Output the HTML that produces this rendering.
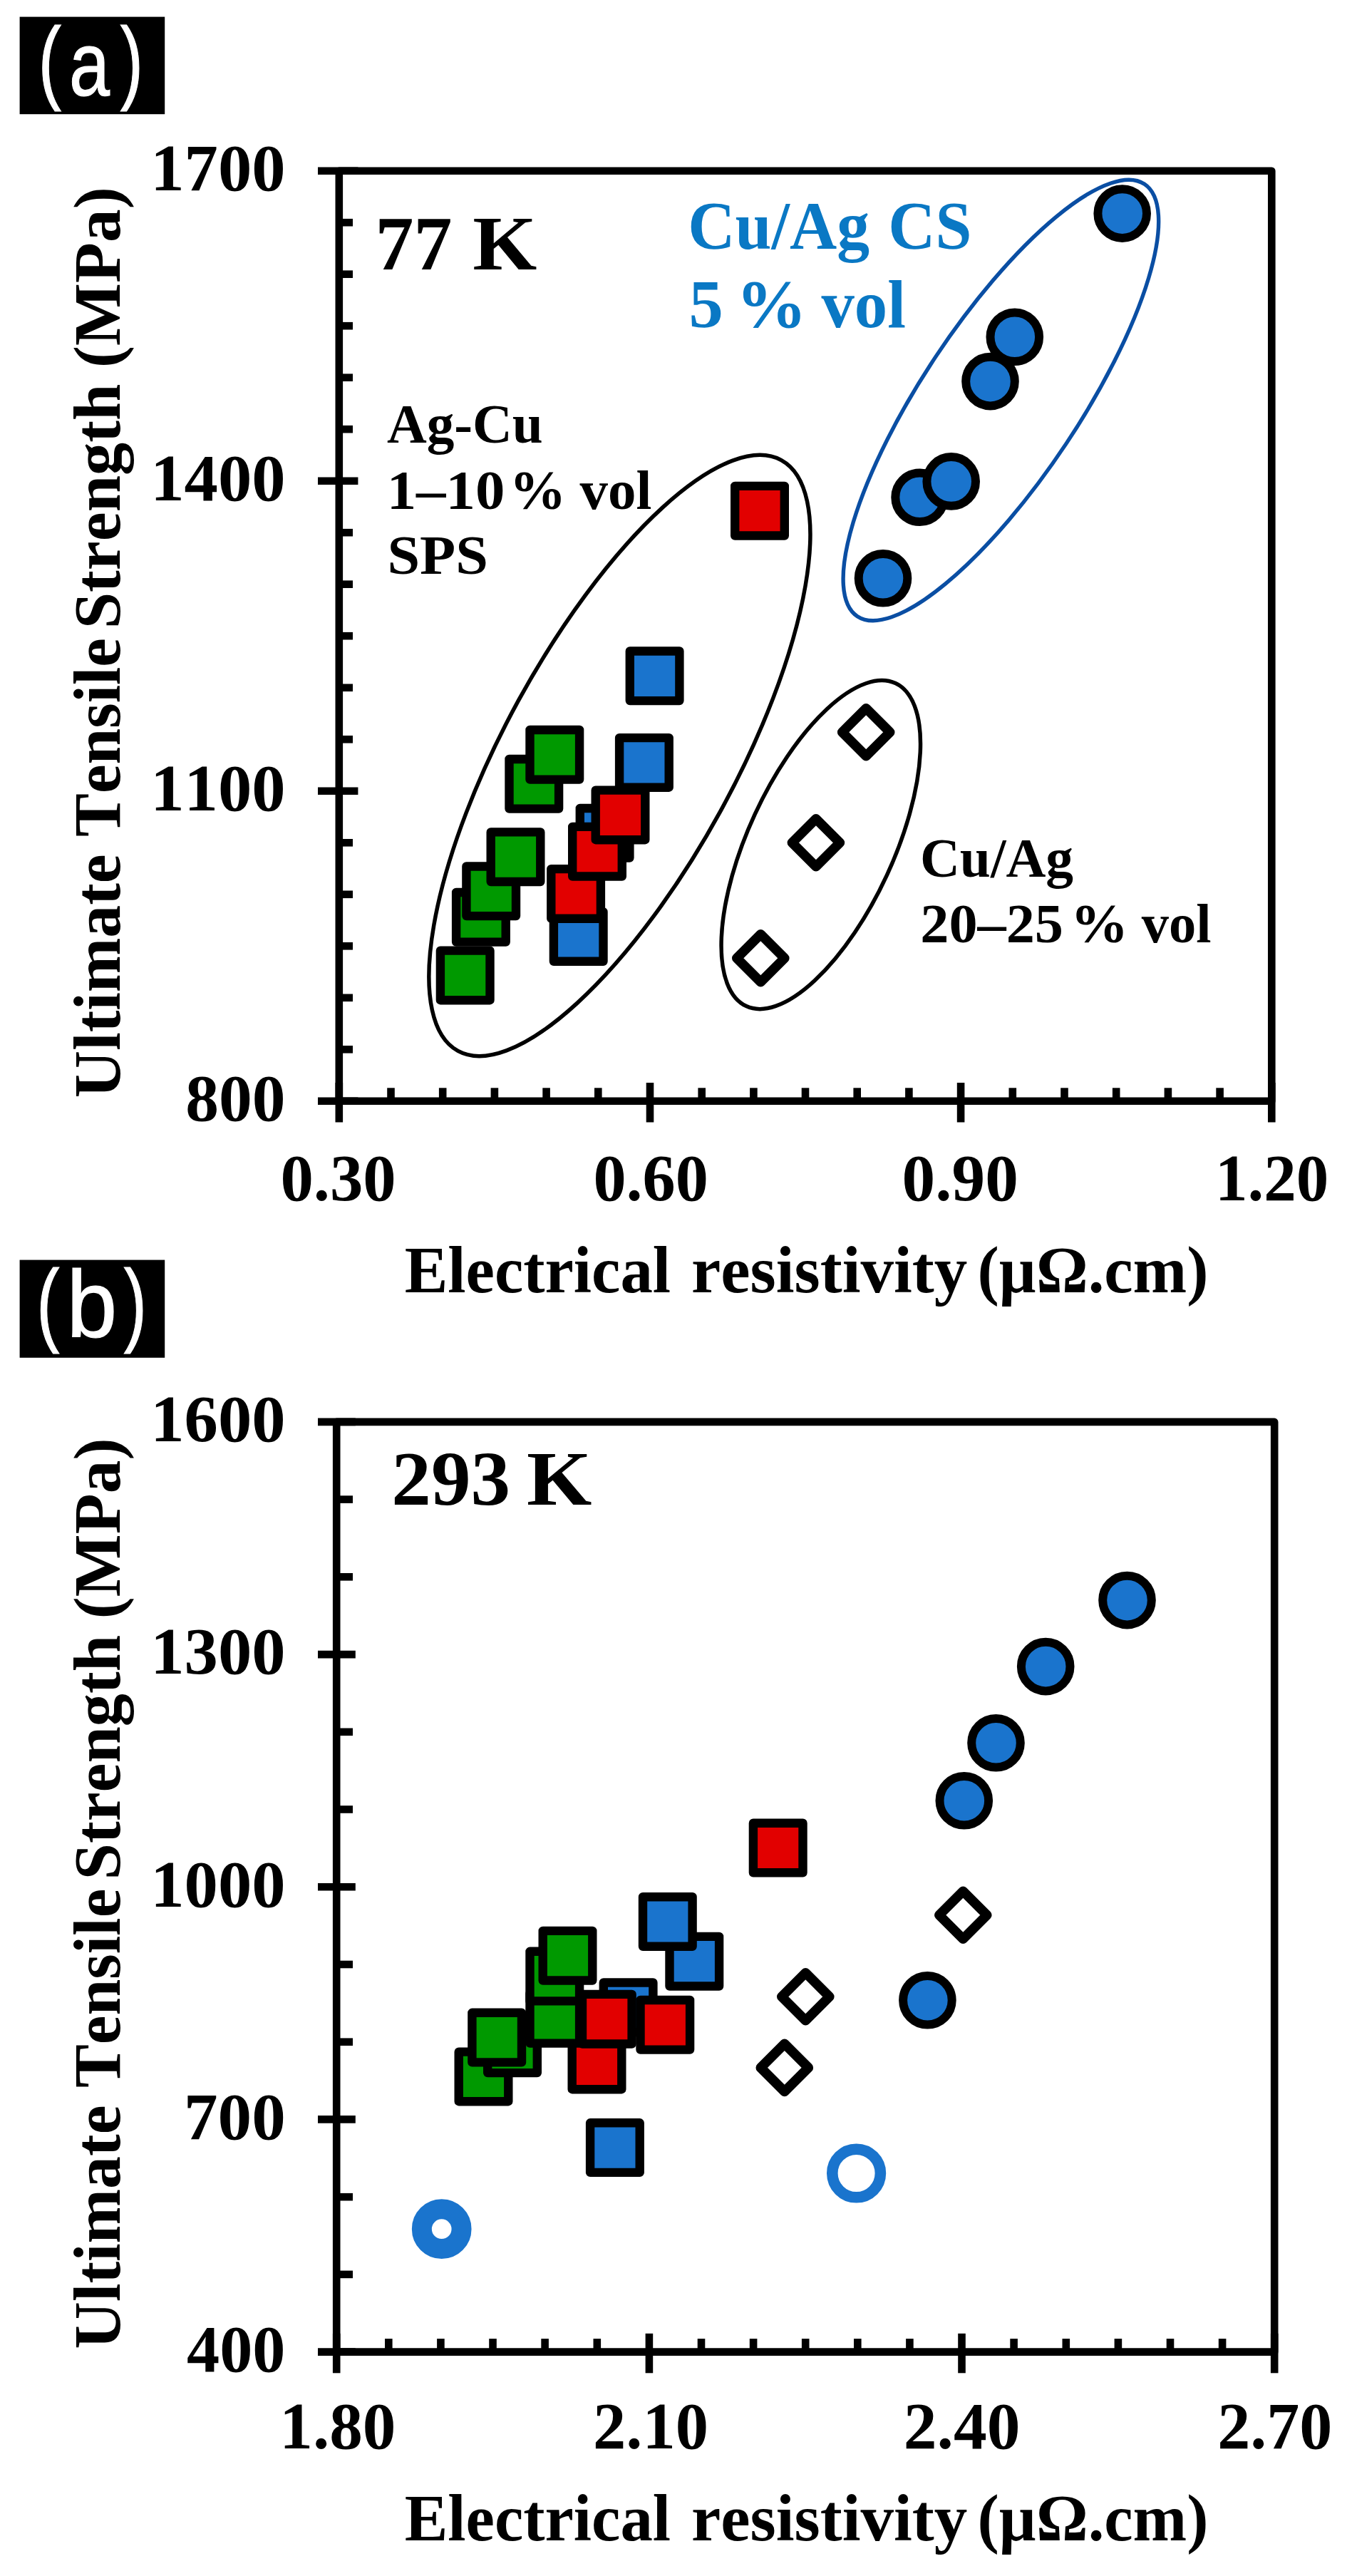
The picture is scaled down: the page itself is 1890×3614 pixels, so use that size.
<!DOCTYPE html>
<html lang="en"><head><meta charset="utf-8"><title>Ultimate Tensile Strength vs Electrical resistivity</title>
<style>html,body{margin:0;padding:0;background:#fff}svg{display:block}text{font-kerning:none;white-space:pre}</style></head>
<body><svg width="1890" height="3614" viewBox="0 0 1890 3614">
<rect width="1890" height="3614" fill="#fff"/>
<rect x="27.6" y="23.6" width="203.6" height="136.6" fill="#000"/>
<text font-family="'Liberation Sans','Noto Sans CJK SC',sans-serif" fill="#fff" stroke="#fff" stroke-width="1.2"><tspan x="53.7" y="129.0" font-size="129" textLength="32.2" lengthAdjust="spacingAndGlyphs">(</tspan><tspan x="96.9" y="133.7" font-size="128" textLength="57.0" lengthAdjust="spacingAndGlyphs">a</tspan><tspan x="168.8" y="129.0" font-size="129" textLength="32.2" lengthAdjust="spacingAndGlyphs">)</tspan></text>
<rect x="475.8" y="239.7" width="1308.5" height="1305.1" fill="none" stroke="#000" stroke-width="10.6" stroke-linejoin="round"/>
<line x1="446" y1="239.7" x2="502.4" y2="239.7" stroke="#000" stroke-width="10.6"/>
<line x1="475.8" y1="312.2" x2="495" y2="312.2" stroke="#000" stroke-width="10.6"/>
<line x1="475.8" y1="384.7" x2="495" y2="384.7" stroke="#000" stroke-width="10.6"/>
<line x1="475.8" y1="457.2" x2="495" y2="457.2" stroke="#000" stroke-width="10.6"/>
<line x1="475.8" y1="529.7" x2="495" y2="529.7" stroke="#000" stroke-width="10.6"/>
<line x1="475.8" y1="602.2" x2="495" y2="602.2" stroke="#000" stroke-width="10.6"/>
<line x1="446" y1="674.7" x2="502.4" y2="674.7" stroke="#000" stroke-width="10.6"/>
<line x1="475.8" y1="747.2" x2="495" y2="747.2" stroke="#000" stroke-width="10.6"/>
<line x1="475.8" y1="819.7" x2="495" y2="819.7" stroke="#000" stroke-width="10.6"/>
<line x1="475.8" y1="892.2" x2="495" y2="892.2" stroke="#000" stroke-width="10.6"/>
<line x1="475.8" y1="964.8" x2="495" y2="964.8" stroke="#000" stroke-width="10.6"/>
<line x1="475.8" y1="1037.3" x2="495" y2="1037.3" stroke="#000" stroke-width="10.6"/>
<line x1="446" y1="1109.8" x2="502.4" y2="1109.8" stroke="#000" stroke-width="10.6"/>
<line x1="475.8" y1="1182.3" x2="495" y2="1182.3" stroke="#000" stroke-width="10.6"/>
<line x1="475.8" y1="1254.8" x2="495" y2="1254.8" stroke="#000" stroke-width="10.6"/>
<line x1="475.8" y1="1327.3" x2="495" y2="1327.3" stroke="#000" stroke-width="10.6"/>
<line x1="475.8" y1="1399.8" x2="495" y2="1399.8" stroke="#000" stroke-width="10.6"/>
<line x1="475.8" y1="1472.3" x2="495" y2="1472.3" stroke="#000" stroke-width="10.6"/>
<line x1="446" y1="1544.8" x2="502.4" y2="1544.8" stroke="#000" stroke-width="10.6"/>
<line x1="475.8" y1="1519.0" x2="475.8" y2="1574.5" stroke="#000" stroke-width="10.6"/>
<line x1="548.5" y1="1526.3" x2="548.5" y2="1544.8" stroke="#000" stroke-width="10.6"/>
<line x1="621.2" y1="1526.3" x2="621.2" y2="1544.8" stroke="#000" stroke-width="10.6"/>
<line x1="693.9" y1="1526.3" x2="693.9" y2="1544.8" stroke="#000" stroke-width="10.6"/>
<line x1="766.6" y1="1526.3" x2="766.6" y2="1544.8" stroke="#000" stroke-width="10.6"/>
<line x1="839.3" y1="1526.3" x2="839.3" y2="1544.8" stroke="#000" stroke-width="10.6"/>
<line x1="912.0" y1="1519.0" x2="912.0" y2="1574.5" stroke="#000" stroke-width="10.6"/>
<line x1="984.7" y1="1526.3" x2="984.7" y2="1544.8" stroke="#000" stroke-width="10.6"/>
<line x1="1057.4" y1="1526.3" x2="1057.4" y2="1544.8" stroke="#000" stroke-width="10.6"/>
<line x1="1130.0" y1="1526.3" x2="1130.0" y2="1544.8" stroke="#000" stroke-width="10.6"/>
<line x1="1202.7" y1="1526.3" x2="1202.7" y2="1544.8" stroke="#000" stroke-width="10.6"/>
<line x1="1275.4" y1="1526.3" x2="1275.4" y2="1544.8" stroke="#000" stroke-width="10.6"/>
<line x1="1348.1" y1="1519.0" x2="1348.1" y2="1574.5" stroke="#000" stroke-width="10.6"/>
<line x1="1420.8" y1="1526.3" x2="1420.8" y2="1544.8" stroke="#000" stroke-width="10.6"/>
<line x1="1493.5" y1="1526.3" x2="1493.5" y2="1544.8" stroke="#000" stroke-width="10.6"/>
<line x1="1566.2" y1="1526.3" x2="1566.2" y2="1544.8" stroke="#000" stroke-width="10.6"/>
<line x1="1638.9" y1="1526.3" x2="1638.9" y2="1544.8" stroke="#000" stroke-width="10.6"/>
<line x1="1711.6" y1="1526.3" x2="1711.6" y2="1544.8" stroke="#000" stroke-width="10.6"/>
<line x1="1784.3" y1="1519.0" x2="1784.3" y2="1574.5" stroke="#000" stroke-width="10.6"/>
<text font-family="'Liberation Serif','Noto Serif CJK SC',serif" font-size="94" font-weight="bold" fill="#000"><tspan x="211.3" y="267.3" textLength="189.3" lengthAdjust="spacingAndGlyphs">1700</tspan></text>
<text font-family="'Liberation Serif','Noto Serif CJK SC',serif" font-size="94" font-weight="bold" fill="#000"><tspan x="211.3" y="702.3" textLength="189.3" lengthAdjust="spacingAndGlyphs">1400</tspan></text>
<text font-family="'Liberation Serif','Noto Serif CJK SC',serif" font-size="94" font-weight="bold" fill="#000"><tspan x="211.3" y="1137.4" textLength="189.3" lengthAdjust="spacingAndGlyphs">1100</tspan></text>
<text font-family="'Liberation Serif','Noto Serif CJK SC',serif" font-size="94" font-weight="bold" fill="#000"><tspan x="260.3" y="1572.4" textLength="140.3" lengthAdjust="spacingAndGlyphs">800</tspan></text>
<text font-family="'Liberation Serif','Noto Serif CJK SC',serif" font-size="93" font-weight="bold" fill="#000"><tspan x="393.4" y="1683.5" textLength="162.2" lengthAdjust="spacingAndGlyphs">0.30</tspan></text>
<text font-family="'Liberation Serif','Noto Serif CJK SC',serif" font-size="93" font-weight="bold" fill="#000"><tspan x="832.4" y="1683.5" textLength="161.5" lengthAdjust="spacingAndGlyphs">0.60</tspan></text>
<text font-family="'Liberation Serif','Noto Serif CJK SC',serif" font-size="93" font-weight="bold" fill="#000"><tspan x="1265.6" y="1683.5" textLength="163.3" lengthAdjust="spacingAndGlyphs">0.90</tspan></text>
<text font-family="'Liberation Serif','Noto Serif CJK SC',serif" font-size="93" font-weight="bold" fill="#000"><tspan x="1704.9" y="1683.5" textLength="159.4" lengthAdjust="spacingAndGlyphs">1.20</tspan></text>
<text font-family="'Liberation Serif','Noto Serif CJK SC',serif" font-size="94" font-weight="bold" fill="#000"><tspan x="567.7" y="1812.6" textLength="373.4" lengthAdjust="spacingAndGlyphs">Electrical</tspan> <tspan x="970.1" y="1812.6" textLength="387.2" lengthAdjust="spacingAndGlyphs">resistivity</tspan> <tspan x="1371.4" y="1812.6" textLength="324.1" lengthAdjust="spacingAndGlyphs">(µΩ.cm)</tspan></text>
<text transform="translate(168.3 0) rotate(-90)" font-family="'Liberation Serif','Noto Serif CJK SC',serif" font-size="94" font-weight="bold" fill="#000"><tspan x="-1540.2" y="0" textLength="341.8" lengthAdjust="spacingAndGlyphs">Ultimate</tspan> <tspan x="-1173.9" y="0" textLength="278.7" lengthAdjust="spacingAndGlyphs">Tensile</tspan> <tspan x="-882.2" y="0" textLength="343.4" lengthAdjust="spacingAndGlyphs">Strength</tspan> <tspan x="-516.0" y="0" textLength="253.7" lengthAdjust="spacingAndGlyphs">(MPa)</tspan></text>
<text font-family="'Liberation Serif','Noto Serif CJK SC',serif" font-size="108" font-weight="bold" fill="#000"><tspan x="526.5" y="378.4" textLength="107.9" lengthAdjust="spacingAndGlyphs">77</tspan> <tspan x="663.2" y="378.4" textLength="90.1" lengthAdjust="spacingAndGlyphs">K</tspan></text>
<text font-family="'Liberation Serif','Noto Serif CJK SC',serif" font-size="78" font-weight="bold" fill="#000"><tspan x="543.0" y="620.8" textLength="218.8" lengthAdjust="spacingAndGlyphs">Ag-Cu</tspan></text>
<text font-family="'Liberation Serif','Noto Serif CJK SC',serif" font-size="78" font-weight="bold" fill="#000"><tspan x="542.7" y="714.4" textLength="165.7" lengthAdjust="spacingAndGlyphs">1–10</tspan> <tspan x="714.8" y="714.4" textLength="79.5" lengthAdjust="spacingAndGlyphs">%</tspan> <tspan x="813.6" y="714.4" textLength="100.8" lengthAdjust="spacingAndGlyphs">vol</tspan></text>
<text font-family="'Liberation Serif','Noto Serif CJK SC',serif" font-size="78" font-weight="bold" fill="#000"><tspan x="543.4" y="805.0" textLength="141.5" lengthAdjust="spacingAndGlyphs">SPS</tspan></text>
<text font-family="'Liberation Serif','Noto Serif CJK SC',serif" font-size="96" font-weight="bold" fill="#0a78c4"><tspan x="965.3" y="348.8" textLength="254.8" lengthAdjust="spacingAndGlyphs">Cu/Ag</tspan> <tspan x="1246.3" y="348.8" textLength="117.1" lengthAdjust="spacingAndGlyphs">CS</tspan></text>
<text font-family="'Liberation Serif','Noto Serif CJK SC',serif" font-size="96" font-weight="bold" fill="#0a78c4"><tspan x="966.6" y="459.0" textLength="48.3" lengthAdjust="spacingAndGlyphs">5</tspan> <tspan x="1032.7" y="459.0" textLength="99.3" lengthAdjust="spacingAndGlyphs">%</tspan> <tspan x="1152.4" y="459.0" textLength="118.5" lengthAdjust="spacingAndGlyphs">vol</tspan></text>
<text font-family="'Liberation Serif','Noto Serif CJK SC',serif" font-size="78" font-weight="bold" fill="#000"><tspan x="1290.9" y="1230.0" textLength="215.2" lengthAdjust="spacingAndGlyphs">Cu/Ag</tspan></text>
<text font-family="'Liberation Serif','Noto Serif CJK SC',serif" font-size="78" font-weight="bold" fill="#000"><tspan x="1291.3" y="1321.5" textLength="200.7" lengthAdjust="spacingAndGlyphs">20–25</tspan> <tspan x="1502.0" y="1321.5" textLength="81.2" lengthAdjust="spacingAndGlyphs">%</tspan> <tspan x="1601.7" y="1321.5" textLength="97.7" lengthAdjust="spacingAndGlyphs">vol</tspan></text>
<ellipse cx="0" cy="0" rx="472.4" ry="161.6" transform="translate(869.4 1060) rotate(-61.3)" fill="none" stroke="#000" stroke-width="5.5"/>
<ellipse cx="0" cy="0" rx="249.5" ry="102" transform="translate(1151.8 1185.1) rotate(-65.2)" fill="none" stroke="#000" stroke-width="5.5"/>
<ellipse cx="0" cy="0" rx="364" ry="110" transform="translate(1404.4 561.5) rotate(-56.4)" fill="none" stroke="#0a4ea3" stroke-width="5.4"/>
<rect x="776.9" y="1279.2" width="69.6" height="69.6" fill="#1a74cd" stroke="#000" stroke-width="12.4" stroke-linejoin="round"/>
<rect x="813.8" y="1134.0" width="69.6" height="69.6" fill="#1a74cd" stroke="#000" stroke-width="12.4" stroke-linejoin="round"/>
<rect x="869.1" y="1035.1" width="69.6" height="69.6" fill="#1a74cd" stroke="#000" stroke-width="12.4" stroke-linejoin="round"/>
<rect x="883.8" y="913.5" width="69.6" height="69.6" fill="#1a74cd" stroke="#000" stroke-width="12.4" stroke-linejoin="round"/>
<rect x="773.3" y="1219.1" width="69.6" height="69.6" fill="#e20000" stroke="#000" stroke-width="12.4" stroke-linejoin="round"/>
<rect x="803.2" y="1159.9" width="69.6" height="69.6" fill="#e20000" stroke="#000" stroke-width="12.4" stroke-linejoin="round"/>
<rect x="835.7" y="1108.6" width="69.6" height="69.6" fill="#e20000" stroke="#000" stroke-width="12.4" stroke-linejoin="round"/>
<rect x="1031.2" y="681.9" width="69.6" height="69.6" fill="#e20000" stroke="#000" stroke-width="12.4" stroke-linejoin="round"/>
<rect x="617.9" y="1333.6" width="69.6" height="69.6" fill="#009900" stroke="#000" stroke-width="12.4" stroke-linejoin="round"/>
<rect x="640.1" y="1252.0" width="69.6" height="69.6" fill="#009900" stroke="#000" stroke-width="12.4" stroke-linejoin="round"/>
<rect x="654.4" y="1215.5" width="69.6" height="69.6" fill="#009900" stroke="#000" stroke-width="12.4" stroke-linejoin="round"/>
<rect x="688.7" y="1167.4" width="69.6" height="69.6" fill="#009900" stroke="#000" stroke-width="12.4" stroke-linejoin="round"/>
<rect x="714.5" y="1065.0" width="69.6" height="69.6" fill="#009900" stroke="#000" stroke-width="12.4" stroke-linejoin="round"/>
<rect x="743.5" y="1024.0" width="69.6" height="69.6" fill="#009900" stroke="#000" stroke-width="12.4" stroke-linejoin="round"/>
<path d="M1067.3 1310.8L1100.8 1344.3L1067.3 1377.8L1033.8 1344.3Z" fill="#fff" stroke="#000" stroke-width="13.6" stroke-linejoin="round"/>
<path d="M1144.9 1148.8L1178.4 1182.3L1144.9 1215.8L1111.4 1182.3Z" fill="#fff" stroke="#000" stroke-width="13.6" stroke-linejoin="round"/>
<path d="M1215.2 993.7L1248.7 1027.2L1215.2 1060.7L1181.7 1027.2Z" fill="#fff" stroke="#000" stroke-width="13.6" stroke-linejoin="round"/>
<circle cx="1239.0" cy="811.3" r="34.3" fill="#1a74cd" stroke="#000" stroke-width="12"/>
<circle cx="1290.6" cy="697.7" r="34.3" fill="#1a74cd" stroke="#000" stroke-width="12"/>
<circle cx="1334.7" cy="675.4" r="34.3" fill="#1a74cd" stroke="#000" stroke-width="12"/>
<circle cx="1389.5" cy="535.1" r="34.3" fill="#1a74cd" stroke="#000" stroke-width="12"/>
<circle cx="1423.8" cy="472.8" r="34.3" fill="#1a74cd" stroke="#000" stroke-width="12"/>
<circle cx="1574.7" cy="299.6" r="34.3" fill="#1a74cd" stroke="#000" stroke-width="12"/>
<rect x="27.6" y="1767.6" width="203.6" height="137.2" fill="#000"/>
<text font-family="'Liberation Sans','Noto Sans CJK SC',sans-serif" fill="#fff" stroke="#fff" stroke-width="1.2"><tspan x="51.2" y="1871.8" font-size="129" textLength="32.2" lengthAdjust="spacingAndGlyphs">(</tspan><tspan x="93.5" y="1875.6" font-size="134" textLength="70.8" lengthAdjust="spacingAndGlyphs">b</tspan><tspan x="173.7" y="1871.8" font-size="129" textLength="32.2" lengthAdjust="spacingAndGlyphs">)</tspan></text>
<rect x="472.2" y="1994.9" width="1316.0" height="1304.6999999999998" fill="none" stroke="#000" stroke-width="10.6" stroke-linejoin="round"/>
<line x1="446" y1="1994.9" x2="498.8" y2="1994.9" stroke="#000" stroke-width="10.6"/>
<line x1="472.2" y1="2103.6" x2="495" y2="2103.6" stroke="#000" stroke-width="10.6"/>
<line x1="472.2" y1="2212.3" x2="495" y2="2212.3" stroke="#000" stroke-width="10.6"/>
<line x1="446" y1="2321.1" x2="498.8" y2="2321.1" stroke="#000" stroke-width="10.6"/>
<line x1="472.2" y1="2429.8" x2="495" y2="2429.8" stroke="#000" stroke-width="10.6"/>
<line x1="472.2" y1="2538.5" x2="495" y2="2538.5" stroke="#000" stroke-width="10.6"/>
<line x1="446" y1="2647.2" x2="498.8" y2="2647.2" stroke="#000" stroke-width="10.6"/>
<line x1="472.2" y1="2756.0" x2="495" y2="2756.0" stroke="#000" stroke-width="10.6"/>
<line x1="472.2" y1="2864.7" x2="495" y2="2864.7" stroke="#000" stroke-width="10.6"/>
<line x1="446" y1="2973.4" x2="498.8" y2="2973.4" stroke="#000" stroke-width="10.6"/>
<line x1="472.2" y1="3082.2" x2="495" y2="3082.2" stroke="#000" stroke-width="10.6"/>
<line x1="472.2" y1="3190.9" x2="495" y2="3190.9" stroke="#000" stroke-width="10.6"/>
<line x1="446" y1="3299.6" x2="498.8" y2="3299.6" stroke="#000" stroke-width="10.6"/>
<line x1="472.2" y1="3273.8" x2="472.2" y2="3329.3" stroke="#000" stroke-width="10.6"/>
<line x1="545.3" y1="3281.1" x2="545.3" y2="3299.6" stroke="#000" stroke-width="10.6"/>
<line x1="618.4" y1="3281.1" x2="618.4" y2="3299.6" stroke="#000" stroke-width="10.6"/>
<line x1="691.5" y1="3281.1" x2="691.5" y2="3299.6" stroke="#000" stroke-width="10.6"/>
<line x1="764.6" y1="3281.1" x2="764.6" y2="3299.6" stroke="#000" stroke-width="10.6"/>
<line x1="837.8" y1="3281.1" x2="837.8" y2="3299.6" stroke="#000" stroke-width="10.6"/>
<line x1="910.9" y1="3273.8" x2="910.9" y2="3329.3" stroke="#000" stroke-width="10.6"/>
<line x1="984.0" y1="3281.1" x2="984.0" y2="3299.6" stroke="#000" stroke-width="10.6"/>
<line x1="1057.1" y1="3281.1" x2="1057.1" y2="3299.6" stroke="#000" stroke-width="10.6"/>
<line x1="1130.2" y1="3281.1" x2="1130.2" y2="3299.6" stroke="#000" stroke-width="10.6"/>
<line x1="1203.3" y1="3281.1" x2="1203.3" y2="3299.6" stroke="#000" stroke-width="10.6"/>
<line x1="1276.4" y1="3281.1" x2="1276.4" y2="3299.6" stroke="#000" stroke-width="10.6"/>
<line x1="1349.5" y1="3273.8" x2="1349.5" y2="3329.3" stroke="#000" stroke-width="10.6"/>
<line x1="1422.6" y1="3281.1" x2="1422.6" y2="3299.6" stroke="#000" stroke-width="10.6"/>
<line x1="1495.8" y1="3281.1" x2="1495.8" y2="3299.6" stroke="#000" stroke-width="10.6"/>
<line x1="1568.9" y1="3281.1" x2="1568.9" y2="3299.6" stroke="#000" stroke-width="10.6"/>
<line x1="1642.0" y1="3281.1" x2="1642.0" y2="3299.6" stroke="#000" stroke-width="10.6"/>
<line x1="1715.1" y1="3281.1" x2="1715.1" y2="3299.6" stroke="#000" stroke-width="10.6"/>
<line x1="1788.2" y1="3273.8" x2="1788.2" y2="3329.3" stroke="#000" stroke-width="10.6"/>
<text font-family="'Liberation Serif','Noto Serif CJK SC',serif" font-size="94" font-weight="bold" fill="#000"><tspan x="211.3" y="2022.2" textLength="189.3" lengthAdjust="spacingAndGlyphs">1600</tspan></text>
<text font-family="'Liberation Serif','Noto Serif CJK SC',serif" font-size="94" font-weight="bold" fill="#000"><tspan x="211.3" y="2348.4" textLength="189.3" lengthAdjust="spacingAndGlyphs">1300</tspan></text>
<text font-family="'Liberation Serif','Noto Serif CJK SC',serif" font-size="94" font-weight="bold" fill="#000"><tspan x="211.3" y="2674.6" textLength="189.3" lengthAdjust="spacingAndGlyphs">1000</tspan></text>
<text font-family="'Liberation Serif','Noto Serif CJK SC',serif" font-size="94" font-weight="bold" fill="#000"><tspan x="258.0" y="3000.7" textLength="142.7" lengthAdjust="spacingAndGlyphs">700</tspan></text>
<text font-family="'Liberation Serif','Noto Serif CJK SC',serif" font-size="94" font-weight="bold" fill="#000"><tspan x="262.1" y="3326.9" textLength="138.4" lengthAdjust="spacingAndGlyphs">400</tspan></text>
<text font-family="'Liberation Serif','Noto Serif CJK SC',serif" font-size="93" font-weight="bold" fill="#000"><tspan x="392.3" y="3434.8" textLength="163.2" lengthAdjust="spacingAndGlyphs">1.80</tspan></text>
<text font-family="'Liberation Serif','Noto Serif CJK SC',serif" font-size="93" font-weight="bold" fill="#000"><tspan x="832.0" y="3434.8" textLength="161.9" lengthAdjust="spacingAndGlyphs">2.10</tspan></text>
<text font-family="'Liberation Serif','Noto Serif CJK SC',serif" font-size="93" font-weight="bold" fill="#000"><tspan x="1267.8" y="3434.8" textLength="163.7" lengthAdjust="spacingAndGlyphs">2.40</tspan></text>
<text font-family="'Liberation Serif','Noto Serif CJK SC',serif" font-size="93" font-weight="bold" fill="#000"><tspan x="1708.3" y="3434.8" textLength="161.1" lengthAdjust="spacingAndGlyphs">2.70</tspan></text>
<text font-family="'Liberation Serif','Noto Serif CJK SC',serif" font-size="94" font-weight="bold" fill="#000"><tspan x="567.7" y="3563.8" textLength="373.4" lengthAdjust="spacingAndGlyphs">Electrical</tspan> <tspan x="970.1" y="3563.8" textLength="387.2" lengthAdjust="spacingAndGlyphs">resistivity</tspan> <tspan x="1371.4" y="3563.8" textLength="324.1" lengthAdjust="spacingAndGlyphs">(µΩ.cm)</tspan></text>
<text transform="translate(168.3 0) rotate(-90)" font-family="'Liberation Serif','Noto Serif CJK SC',serif" font-size="94" font-weight="bold" fill="#000"><tspan x="-3295.4" y="0" textLength="341.8" lengthAdjust="spacingAndGlyphs">Ultimate</tspan> <tspan x="-2929.1" y="0" textLength="279.3" lengthAdjust="spacingAndGlyphs">Tensile</tspan> <tspan x="-2637.4" y="0" textLength="343.4" lengthAdjust="spacingAndGlyphs">Strength</tspan> <tspan x="-2271.2" y="0" textLength="253.7" lengthAdjust="spacingAndGlyphs">(MPa)</tspan></text>
<text font-family="'Liberation Serif','Noto Serif CJK SC',serif" font-size="108" font-weight="bold" fill="#000"><tspan x="549.3" y="2110.8" textLength="166.8" lengthAdjust="spacingAndGlyphs">293</tspan> <tspan x="739.1" y="2110.8" textLength="91.4" lengthAdjust="spacingAndGlyphs">K</tspan></text>
<circle cx="619.7" cy="3127.2" r="27.85" fill="#fff" stroke="#1a74cd" stroke-width="28"/>
<circle cx="1201.6" cy="3049.0" r="33.8" fill="#fff" stroke="#1a74cd" stroke-width="15.6"/>
<rect x="828.1" y="2978.3" width="69.6" height="69.6" fill="#1a74cd" stroke="#000" stroke-width="12.4" stroke-linejoin="round"/>
<rect x="846.8" y="2781.5" width="69.6" height="69.6" fill="#1a74cd" stroke="#000" stroke-width="12.4" stroke-linejoin="round"/>
<rect x="939.5" y="2716.9" width="69.6" height="69.6" fill="#1a74cd" stroke="#000" stroke-width="12.4" stroke-linejoin="round"/>
<rect x="902.0" y="2661.2" width="69.6" height="69.6" fill="#1a74cd" stroke="#000" stroke-width="12.4" stroke-linejoin="round"/>
<rect x="802.7" y="2861.6" width="69.6" height="69.6" fill="#e20000" stroke="#000" stroke-width="12.4" stroke-linejoin="round"/>
<rect x="817.0" y="2797.9" width="69.6" height="69.6" fill="#e20000" stroke="#000" stroke-width="12.4" stroke-linejoin="round"/>
<rect x="898.5" y="2806.0" width="69.6" height="69.6" fill="#e20000" stroke="#000" stroke-width="12.4" stroke-linejoin="round"/>
<rect x="1056.9" y="2557.7" width="69.6" height="69.6" fill="#e20000" stroke="#000" stroke-width="12.4" stroke-linejoin="round"/>
<rect x="643.7" y="2878.6" width="69.6" height="69.6" fill="#009900" stroke="#000" stroke-width="12.4" stroke-linejoin="round"/>
<rect x="684.2" y="2838.5" width="69.6" height="69.6" fill="#009900" stroke="#000" stroke-width="12.4" stroke-linejoin="round"/>
<rect x="662.4" y="2823.8" width="69.6" height="69.6" fill="#009900" stroke="#000" stroke-width="12.4" stroke-linejoin="round"/>
<rect x="743.5" y="2797.0" width="69.6" height="69.6" fill="#009900" stroke="#000" stroke-width="12.4" stroke-linejoin="round"/>
<rect x="743.5" y="2737.8" width="69.6" height="69.6" fill="#009900" stroke="#000" stroke-width="12.4" stroke-linejoin="round"/>
<rect x="761.7" y="2708.9" width="69.6" height="69.6" fill="#009900" stroke="#000" stroke-width="12.4" stroke-linejoin="round"/>
<path d="M1100.8 2867.4L1134.3 2900.9L1100.8 2934.4L1067.3 2900.9Z" fill="#fff" stroke="#000" stroke-width="13.6" stroke-linejoin="round"/>
<path d="M1130.3 2767.8L1163.8 2801.3L1130.3 2834.8L1096.8 2801.3Z" fill="#fff" stroke="#000" stroke-width="13.6" stroke-linejoin="round"/>
<path d="M1351.3 2653.3L1384.8 2686.8L1351.3 2720.3L1317.8 2686.8Z" fill="#fff" stroke="#000" stroke-width="13.6" stroke-linejoin="round"/>
<circle cx="1301.4" cy="2806.3" r="34.3" fill="#1a74cd" stroke="#000" stroke-width="12"/>
<circle cx="1352.8" cy="2526.2" r="34.3" fill="#1a74cd" stroke="#000" stroke-width="12"/>
<circle cx="1397.5" cy="2445.2" r="34.3" fill="#1a74cd" stroke="#000" stroke-width="12"/>
<circle cx="1467.2" cy="2338.1" r="34.3" fill="#1a74cd" stroke="#000" stroke-width="12"/>
<circle cx="1581.5" cy="2245.1" r="34.3" fill="#1a74cd" stroke="#000" stroke-width="12"/>
</svg></body></html>
